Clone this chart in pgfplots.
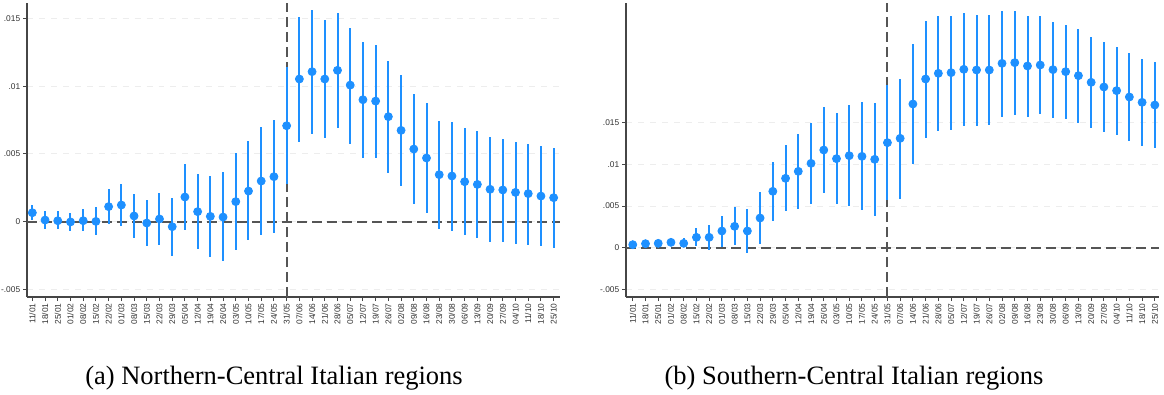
\documentclass[border=0pt]{standalone}
\usepackage{fontspec}
\setmainfont{Liberation Serif}
\newfontfamily\arial{Liberation Sans}
\usepackage{pgfplots}
\usepackage{pgfplotstable}
\pgfplotsset{compat=1.18}
\definecolor{sblue}{RGB}{30,144,255}
\definecolor{axgray}{RGB}{70,70,70}
\definecolor{refgray}{RGB}{85,85,85}

\pgfplotstableread{
x y lo hi
0 0.00066 0.00010 0.00125
1 0.00012 -0.00052 0.00081
2 0.00007 -0.00057 0.00076
3 -0.00002 -0.00071 0.00066
4 0.00007 -0.00071 0.00093
5 0.00002 -0.00101 0.00108
6 0.00111 -0.00017 0.00241
7 0.00123 -0.00030 0.00276
8 0.00042 -0.00121 0.00207
9 -0.00010 -0.00180 0.00157
10 0.00020 -0.00170 0.00212
11 -0.00037 -0.00251 0.00175
12 0.00182 -0.00064 0.00425
13 0.00074 -0.00204 0.00352
14 0.00039 -0.00258 0.00337
15 0.00034 -0.00293 0.00364
16 0.00148 -0.00209 0.00504
17 0.00226 -0.00138 0.00595
18 0.00300 -0.00098 0.00698
19 0.00332 -0.00081 0.00750
20 0.00708 0.00275 0.01144
21 0.01053 0.00590 0.01513
22 0.01107 0.00649 0.01559
23 0.01053 0.00620 0.01485
24 0.01117 0.00691 0.01540
25 0.01008 0.00576 0.01431
26 0.00900 0.00472 0.01323
27 0.00890 0.00470 0.01303
28 0.00775 0.00362 0.01185
29 0.00674 0.00266 0.01080
30 0.00536 0.00130 0.00942
31 0.00470 0.00066 0.00873
32 0.00347 -0.00057 0.00745
33 0.00337 -0.00066 0.00735
34 0.00295 -0.00101 0.00691
35 0.00275 -0.00123 0.00669
36 0.00239 -0.00150 0.00627
37 0.00234 -0.00150 0.00612
38 0.00216 -0.00165 0.00590
39 0.00207 -0.00172 0.00573
40 0.00189 -0.00182 0.00558
41 0.00177 -0.00192 0.00543
}\north

\pgfplotstableread{
x y lo hi
0 0.00036 0.00022 0.00050
1 0.00048 0.00035 0.00062
2 0.00052 0.00038 0.00066
3 0.00064 0.00028 0.00092
4 0.00052 0.00008 0.00116
5 0.00124 0.00016 0.00236
6 0.00124 -0.00028 0.00272
7 0.00200 0.00008 0.00384
8 0.00256 0.00032 0.00484
9 0.00200 -0.00060 0.00464
10 0.00356 0.00048 0.00664
11 0.00676 0.00324 0.01028
12 0.00832 0.00440 0.01232
13 0.00916 0.00468 0.01364
14 0.01012 0.00524 0.01496
15 0.01172 0.00656 0.01688
16 0.01068 0.00524 0.01616
17 0.01104 0.00496 0.01712
18 0.01096 0.00448 0.01744
19 0.01060 0.00380 0.01740
20 0.01260 0.00568 0.01948
21 0.01312 0.00588 0.02028
22 0.01724 0.01008 0.02444
23 0.02024 0.01320 0.02724
24 0.02092 0.01400 0.02780
25 0.02100 0.01412 0.02780
26 0.02140 0.01460 0.02812
27 0.02132 0.01464 0.02796
28 0.02132 0.01476 0.02788
29 0.02212 0.01572 0.02844
30 0.02220 0.01596 0.02836
31 0.02180 0.01572 0.02784
32 0.02192 0.01600 0.02776
33 0.02136 0.01560 0.02708
34 0.02112 0.01544 0.02672
35 0.02064 0.01500 0.02620
36 0.01984 0.01436 0.02528
37 0.01928 0.01388 0.02464
38 0.01884 0.01352 0.02412
39 0.01808 0.01284 0.02332
40 0.01744 0.01224 0.02264
41 0.01712 0.01190 0.02228
}\south

\pgfplotsset{
  panel/.style={
    scale only axis,
    width=266.5bp, height=147bp,
    axis x line=bottom, axis y line=left,
    axis line style={-, draw=axgray, line width=0.6bp},
    tick align=outside,
    major tick length=2bp,
    tick style={draw=axgray, line width=0.5bp},
    xmin=-0.42, xmax=41.5,
    xtick={0,...,41},
    xticklabels={11/01,18/01,25/01,01/02,08/02,15/02,22/02,01/03,08/03,15/03,22/03,29/03,05/04,12/04,19/04,26/04,03/05,10/05,17/05,24/05,31/05,07/06,14/06,21/06,28/06,05/07,12/07,19/07,26/07,02/08,09/08,16/08,23/08,30/08,06/09,13/09,20/09,27/09,04/10,11/10,18/10,25/10},
    xticklabel style={rotate=90, anchor=east, inner sep=1bp},
    yticklabel style={inner sep=1.2bp},
    tick label style={font=\arial\fontsize{4.2}{4.6}\selectfont, text=black!80},
    ytick={-0.005,0,0.005,0.01,0.015},
    yticklabels={-.005,0,.005,.01,.015},
    ymajorgrids,
    major grid style={dashed, draw=black!7, line width=0.5bp},
    clip=false,
  },
  ebar/.style={
    only marks, mark=*, mark size=2bp,
    mark options={draw=sblue, fill=sblue},
    error bars/.cd, y dir=both, y explicit, error mark=none,
    error bar style={line width=1bp, draw=sblue},
  },
}

\begin{document}
\begin{tikzpicture}[x=1bp,y=1bp]
\useasboundingbox (0,0) rectangle (582,197);

\begin{axis}[panel, at={(13.5bp,48.5bp)}, anchor=south west,
  ymin=-0.00556, ymax=0.01614]
  \addplot[refgray, line width=1bp, dash pattern=on 5bp off 2.5bp] coordinates {(-0.42,0) (41.5,0)};
  \addplot[refgray, line width=1bp, dash pattern=on 5bp off 2.5bp] coordinates {(20,-0.00556) (20,0.01614)};
  \addplot[ebar] table[x=x, y=y, y error plus expr=\thisrow{hi}-\thisrow{y}, y error minus expr=\thisrow{y}-\thisrow{lo}] {\north};
\end{axis}

\begin{axis}[panel, at={(313bp,48.5bp)}, anchor=south west,
  ymin=-0.00592, ymax=0.02936, xmin=-0.53, xmax=41.33]
  \addplot[refgray, line width=1bp, dash pattern=on 5bp off 2.5bp] coordinates {(-0.53,0) (41.33,0)};
  \addplot[refgray, line width=1bp, dash pattern=on 5bp off 2.5bp] coordinates {(20,-0.00592) (20,0.02936)};
  \addplot[ebar] table[x=x, y=y, y error plus expr=\thisrow{hi}-\thisrow{y}, y error minus expr=\thisrow{y}-\thisrow{lo}] {\south};
\end{axis}

\node[anchor=base, font=\fontsize{13.3}{15}\selectfont, inner sep=0] at (137,5) {(a) Northern-Central Italian regions};
\node[anchor=base, font=\fontsize{13.3}{15}\selectfont, inner sep=0] at (427,5) {(b) Southern-Central Italian regions};
\end{tikzpicture}
\end{document}
